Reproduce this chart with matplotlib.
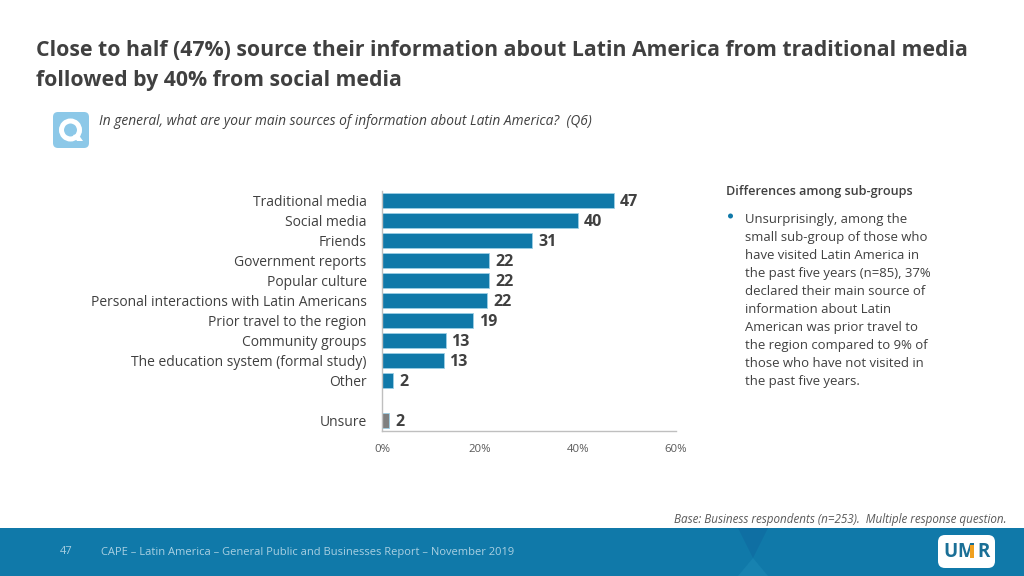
import matplotlib
matplotlib.use('Agg')
import matplotlib.pyplot as plt
from matplotlib.patches import FancyBboxPatch, Polygon, Rectangle, Circle
from matplotlib.transforms import ScaledTranslation

W = 1024
H = 576

categories = ['Traditional media', 'Social media', 'Friends', 'Government reports', 'Popular culture',
              'Personal interactions with Latin Americans', 'Prior travel to the region', 'Community groups',
              'The education system (formal study)', 'Other', '', 'Unsure']
# bar lengths, labels are the rounded figures printed beside them
values = [47.5, 40, 30.7, 21.9, 21.9, 21.5, 18.6, 13, 12.6, 2.3, 0, 1.5]
labels = ['47', '40', '31', '22', '22', '22', '19', '13', '13', '2', '', '2']
x_ticks = [0, 20, 40, 60]
x_tick_labels = ['0%', '20%', '40%', '60%']

title_lines = ['Close to half (47%) source their information about Latin America from traditional media',
               'followed by 40% from social media']
question = 'In general, what are your main sources of information about Latin America?  (Q6)'
side_head = 'Differences among sub-groups'
side_lines = ['Unsurprisingly, among the', 'small sub-group of those who', 'have visited Latin America in',
              'the past five years (n=85), 37%', 'declared their main source of', 'information about Latin',
              'American was prior travel to', 'the region compared to 9% of', 'those who have not visited in',
              'the past five years.']
base_note = 'Base: Business respondents (n=253).  Multiple response question.'
footer_page = '47'
footer_text = 'CAPE \u2013 Latin America \u2013 General Public and Businesses Report \u2013 November 2019'

BLUE = '#1079A9'
GREY = '#7F7F7F'
DARK = '#404040'
LIGHT = '#595959'

plt.rcParams['font.family'] = ['Open Sans', 'DejaVu Sans']

fig = plt.figure(figsize=(W / 100, H / 100), dpi=100, facecolor='white')

# page furniture in pixel coordinates
bg = fig.add_axes([0, 0, 1, 1])
bg.set_xlim(0, W)
bg.set_ylim(H, 0)
bg.axis('off')

for i, line in enumerate(title_lines):
    bg.text(36, 50 + i * 30.5, line, fontsize=15.28, fontweight='bold', color=DARK, va='center', ha='left')

bg.add_patch(FancyBboxPatch((53, 112), 36, 36, boxstyle='round,pad=0,rounding_size=5', fc='#8CC8E8', ec='none'))
bg.add_patch(Circle((70.5, 130), 9, fc='#8CC8E8', ec='white', lw=3.6))
bg.add_patch(Polygon([(73, 135), (78, 134), (83, 141), (77, 141)], fc='white', ec='none'))

bg.text(99, 121.5, question, fontsize=9.95, style='italic', color=DARK, va='center', ha='left')

bg.text(726, 191, side_head, fontsize=9.1, fontweight='semibold', color=DARK, va='center', ha='left')
bg.add_patch(Circle((730.5, 216), 2.5, fc=BLUE, ec='none'))
for i, line in enumerate(side_lines):
    bg.text(745, 220 + i * 17.9, line, fontsize=9.45, color=DARK, va='center', ha='left')

bg.text(1007, 519.5, base_note, fontsize=8.42, style='italic', color=LIGHT, va='center', ha='right')

# footer band
bg.add_patch(Rectangle((0, 528), W, 48, fc=BLUE, ec='none'))
bg.add_patch(Polygon([(738, 528), (768, 528), (753, 558)], fc='#0F6FA3', ec='none'))
bg.add_patch(Polygon([(753, 558), (738, 576), (768, 576)], fc='#1782B0', ec='none'))
bg.text(66, 551, footer_page, fontsize=8, color='#A9D0E2', va='center', ha='center')
bg.text(101, 552, footer_text, fontsize=8, color='#A9D0E2', va='center', ha='left')

bg.add_patch(FancyBboxPatch((938, 535), 57, 33, boxstyle='round,pad=0,rounding_size=7', fc='white', ec='none'))
bg.text(943, 552, 'U', fontsize=13.5, fontweight='bold', color='#1A6F96', va='center', ha='left')
bg.text(957, 552, 'M', fontsize=13.5, fontweight='bold', color='#1A6F96', va='center', ha='left')
bg.text(977, 552, 'R', fontsize=13.5, fontweight='bold', color='#1A6F96', va='center', ha='left')
bg.add_patch(Polygon([(970, 545), (974, 545), (974, 558), (970, 558)], fc='#F0A020', ec='none', zorder=5))

# bar chart
ax = fig.add_axes([382 / W, 1 - 430.5 / H, 293.5 / W, 240 / H])
ax.patch.set_alpha(0)
y = list(range(len(categories)))
colors = [BLUE] * 11 + [GREY]
ax.barh(y, values, height=0.72, color=colors, edgecolor='#9CCFE6', linewidth=0.6)
ax.set_ylim(11.5, -0.5)
ax.set_xlim(0, 60)
for yi, v, lab in zip(y, values, labels):
    if lab:
        ax.annotate(lab, (v, yi), xytext=(4.2, -1.2), textcoords='offset points', fontsize=11.5, fontweight='bold',
                    color=DARK, va='center', ha='left')

ax.set_yticks([i for i in y if categories[i]])
ax.set_yticklabels([c for c in categories if c], fontsize=10, color=DARK)
ax.set_xticks(x_ticks)
ax.set_xticklabels(x_tick_labels, fontsize=8.2, color=LIGHT)
ax.tick_params(axis='both', length=0)
ax.tick_params(axis='y', pad=11)
ax.tick_params(axis='x', pad=10)
# nudge the category names down a touch
nudge = ScaledTranslation(0, -0.3 / 72, fig.dpi_scale_trans)
for label in ax.get_yticklabels():
    label.set_transform(label.get_transform() + nudge)
for s in ['top', 'right']:
    ax.spines[s].set_visible(False)
for s in ['left', 'bottom']:
    ax.spines[s].set_color('#BFBFBF')
    ax.spines[s].set_linewidth(1)

fig.savefig('out.png', dpi=100)
